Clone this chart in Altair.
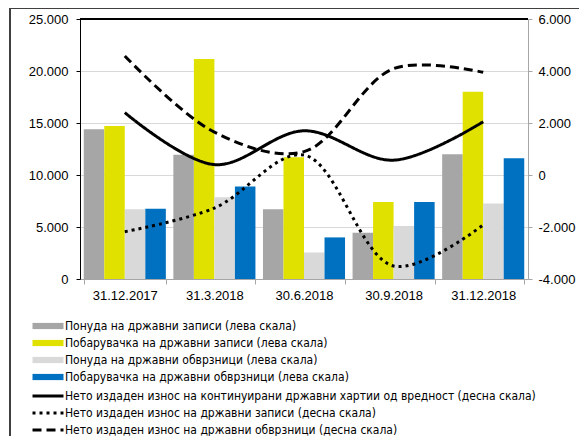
import altair as alt
import pandas as pd

categories = ["31.12.2017", "31.3.2018", "30.6.2018", "30.9.2018", "31.12.2018"]

bar_names = [
    "Понуда на државни записи (лева скала)",
    "Побарувачка на државни записи (лева скала)",
    "Понуда на државни обврзници (лева скала)",
    "Побарувачка на државни обврзници (лева скала)",
]
bar_colors = ["#A6A6A6", "#E1E100", "#D9D9D9", "#0070C0"]

ponuda_zapisi = [14400, 11950, 6700, 4450, 12000]
pobaruvacka_zapisi = [14700, 21150, 11700, 7400, 18000]
ponuda_obvrznici = [6700, 7850, 2550, 5100, 7250]
pobaruvacka_obvrznici = [6750, 8900, 4000, 7400, 11600]

line_names = [
    "Нето издаден износ на континуирани државни хартии од вредност (десна скала)",
    "Нето издаден износ на државни записи (десна скала)",
    "Нето издаден износ на државни обврзници (десна скала)",
]
line_dashes = [[1, 0], [3, 4], [9, 5]]

neto_vkupno = [2400, 400, 1700, 570, 2050]
neto_zapisi = [-2180, -1270, 770, -3500, -1920]
neto_obvrznici = [4580, 1650, 900, 4090, 3950]

left_ticks = [0, 5000, 10000, 15000, 20000, 25000]
right_ticks = [-4000, -2000, 0, 2000, 4000, 6000]

bar_series = [ponuda_zapisi, pobaruvacka_zapisi, ponuda_obvrznici, pobaruvacka_obvrznici]
line_series = [neto_vkupno, neto_zapisi, neto_obvrznici]

bars_df = pd.DataFrame(
    [{"date": c, "series": n, "value": v}
     for n, vals in zip(bar_names, bar_series)
     for c, v in zip(categories, vals)]
)
lines_df = pd.DataFrame(
    [{"date": c, "series": n, "value": v, "i": i}
     for n, vals in zip(line_names, line_series)
     for i, (c, v) in enumerate(zip(categories, vals))]
)

FONT = "Liberation Sans"
LFONT = "DejaVu Sans Condensed"
label_expr = "replace(replace(format(datum.value, ','), ',', '.'), '\u2212', '-')"

x_enc = alt.X(
    "date:N",
    sort=categories,
    scale=alt.Scale(paddingInner=0.084, paddingOuter=0.042),
    axis=alt.Axis(
        title=None, labelAngle=0, tickBand="extent", domainColor="#A6A6A6",
        tickColor="#A6A6A6", tickSize=5, labelPadding=5, labelFontSize=13,
        labelFont=FONT, labelColor="black", grid=False,
    ),
)

bars = alt.Chart(bars_df).mark_bar().encode(
    x=x_enc,
    xOffset=alt.XOffset("series:N", sort=bar_names, scale=alt.Scale(paddingInner=0, paddingOuter=0)),
    y=alt.Y(
        "value:Q",
        scale=alt.Scale(domain=[0, 25000], nice=False),
        axis=alt.Axis(
            title=None, values=left_ticks, labelExpr=label_expr, grid=True,
            gridColor="#D9D9D9", domainColor="black", tickColor="black",
            tickSize=4, labelPadding=8, labelFontSize=13, labelFont=FONT,
            labelColor="black",
        ),
    ),
    color=alt.Color(
        "series:N",
        sort=bar_names,
        scale=alt.Scale(domain=bar_names, range=bar_colors),
        legend=alt.Legend(
            orient="none", legendX=-38, legendY=301, title=None,
            symbolType="M-4,-0.8H4V0.8H-4Z", symbolSize=60, symbolStrokeWidth=0,
            labelFontSize=12, labelFont=LFONT, labelColor="black", labelLimit=600,
            labelOffset=11, rowPadding=5, padding=0,
        ),
    ),
)

lines = alt.Chart(lines_df).mark_line(
    color="black", strokeWidth=3, interpolate="catmull-rom"
).encode(
    x=alt.X("date:N", sort=categories),
    y=alt.Y(
        "value:Q",
        scale=alt.Scale(domain=[-4000, 6000], nice=False),
        axis=alt.Axis(
            title=None, orient="right", values=right_ticks, labelExpr=label_expr,
            grid=False, domainColor="#A6A6A6", tickColor="#A6A6A6", tickSize=4,
            labelPadding=6, labelFontSize=13, labelFont=FONT, labelColor="black",
        ),
    ),
    strokeDash=alt.StrokeDash(
        "series:N",
        sort=line_names,
        scale=alt.Scale(domain=line_names, range=line_dashes),
        legend=alt.Legend(
            orient="none", legendX=-38, legendY=371, title=None,
            symbolType="M-4,0H4", symbolSize=60, symbolStrokeWidth=3,
            symbolStrokeColor="black", labelFontSize=12, labelFont=LFONT,
            labelColor="black", labelLimit=600, labelOffset=11, rowPadding=5,
            padding=0,
        ),
    ),
    order="i:O",
)

top_border = alt.Chart(bars_df).mark_rule(color="black", strokeWidth=1).encode(
    x=alt.value(0), x2=alt.value(448), y=alt.value(0)
)
frame_left = alt.Chart(bars_df).mark_rule(color="#404040", strokeWidth=1).encode(
    x=alt.value(-70), y=alt.value(-10.5), y2=alt.value(600)
)
frame_top = alt.Chart(bars_df).mark_rule(color="#404040", strokeWidth=1).encode(
    x=alt.value(-70), x2=alt.value(600), y=alt.value(-10.5)
)

chart = (
    alt.layer(bars, lines, top_border, frame_left, frame_top)
    .resolve_scale(y="independent", color="independent", strokeDash="independent")
    .properties(
        width=448,
        height=260,
        autosize=alt.AutoSizeParams(type="none"),
        padding={"left": 72, "top": 11, "right": 51, "bottom": 157},
        title=alt.TitleParams(
            "Во милиони денари", anchor="start", frame="group", offset=9,
            dx=-70, fontSize=22, font=FONT, fontWeight="normal",
            baseline="alphabetic", color="black",
        ),
    )
    .configure_view(stroke=None)
)

chart.save("out.html", embed_options={"renderer": "svg", "actions": False})
